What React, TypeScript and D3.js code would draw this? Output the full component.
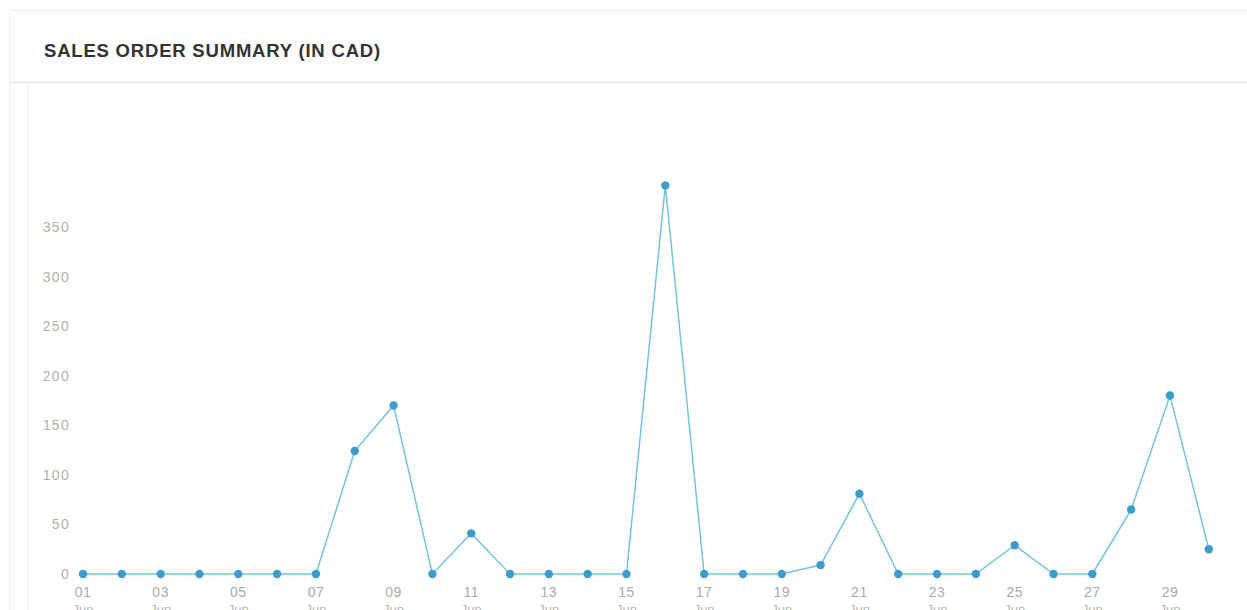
import React, { FunctionComponent, useEffect, useRef } from "react";
import * as d3 from "d3";

const days = ["01", "02", "03", "04", "05", "06", "07", "08", "09", "10",
  "11", "12", "13", "14", "15", "16", "17", "18", "19", "20",
  "21", "22", "23", "24", "25", "26", "27", "28", "29", "30"];
const sales = [0, 0, 0, 0, 0, 0, 0, 124, 170, 0,
  41, 0, 0, 0, 0, 392, 0, 0, 0, 9,
  81, 0, 0, 0, 29, 0, 0, 65, 180, 25];
const yTicks = [0, 50, 100, 150, 200, 250, 300, 350];
const monthLabel = "Jun";

const App: FunctionComponent = () => {
  const d3Container = useRef(null);

  useEffect(() => {
    if (!d3Container.current) {
      return;
    }
    const svg = d3.select(d3Container.current);
    svg.selectAll("*").remove();

    const width = 1247;
    const height = 610;

    // card
    svg.append("rect").attr("width", width).attr("height", height).attr("fill", "#fff");
    svg.append("rect")
      .attr("x", 9.5).attr("y", 10.5)
      .attr("width", width).attr("height", height)
      .attr("fill", "#fdfdfd")
      .attr("stroke", "#efeff1");
    svg.append("line")
      .attr("x1", 10).attr("x2", width)
      .attr("y1", 82.5).attr("y2", 82.5)
      .attr("stroke", "#ececef").attr("stroke-width", 2);
    svg.append("rect")
      .attr("x", 28.5).attr("y", 83.5)
      .attr("width", width).attr("height", height)
      .attr("fill", "#fff")
      .attr("stroke", "#f0f0f3");

    svg.append("text")
      .attr("x", 44).attr("y", 57)
      .attr("font-family", "Liberation Sans, Arial, sans-serif")
      .attr("font-weight", "bold")
      .attr("font-size", 18.5)
      .attr("letter-spacing", 0.8)
      .attr("fill", "#333")
      .text("SALES ORDER SUMMARY (IN CAD)");

    const x = d3.scalePoint<string>().domain(days).range([83, 1208.8]);
    const y = d3.scaleLinear().domain([0, 350]).range([574, 227]);

    const g = svg.append("g");

    g.selectAll("text.ytick").data(yTicks).enter()
      .append("text")
      .attr("class", "ytick")
      .attr("x", 70)
      .attr("y", (d: number) => y(d) + 5)
      .attr("text-anchor", "end")
      .attr("font-family", "Liberation Sans, Arial, sans-serif")
      .attr("font-size", 14)
      .attr("letter-spacing", 1.3)
      .attr("fill", "#b0b0b0")
      .text((d: number) => String(d));

    const labelled = days.filter((_d, i) => i % 2 === 0);
    g.selectAll("text.xtick").data(labelled).enter()
      .append("text")
      .attr("class", "xtick")
      .attr("x", (d: string) => x(d) as number)
      .attr("y", 597)
      .attr("text-anchor", "middle")
      .attr("font-family", "Liberation Sans, Arial, sans-serif")
      .attr("font-size", 14)
      .attr("letter-spacing", 0.5)
      .attr("fill", "#a9a9a9")
      .text((d: string) => d);
    g.selectAll("text.xmonth").data(labelled).enter()
      .append("text")
      .attr("class", "xmonth")
      .attr("x", (d: string) => x(d) as number)
      .attr("y", 614)
      .attr("text-anchor", "middle")
      .attr("font-family", "Liberation Sans, Arial, sans-serif")
      .attr("font-size", 13)
      .attr("fill", "#b5b5b5")
      .text(monthLabel);

    const line = d3.line<number>()
      .x((_d, i) => x(days[i]) as number)
      .y((d) => y(d));

    g.append("path")
      .datum(sales)
      .attr("d", line)
      .attr("fill", "none")
      .attr("stroke", "#74c3e1")
      .attr("stroke-width", 1.5);

    g.selectAll("circle").data(sales).enter()
      .append("circle")
      .attr("cx", (_d: number, i: number) => x(days[i]) as number)
      .attr("cy", (d: number) => y(d))
      .attr("r", 4.2)
      .attr("fill", "#3d9cc9");
  }, []);

  return (
    <svg ref={d3Container} width={1247} height={610}
      style={{ position: "fixed", left: 0, top: 0, display: "block" }} />
  );
};

export default App;
